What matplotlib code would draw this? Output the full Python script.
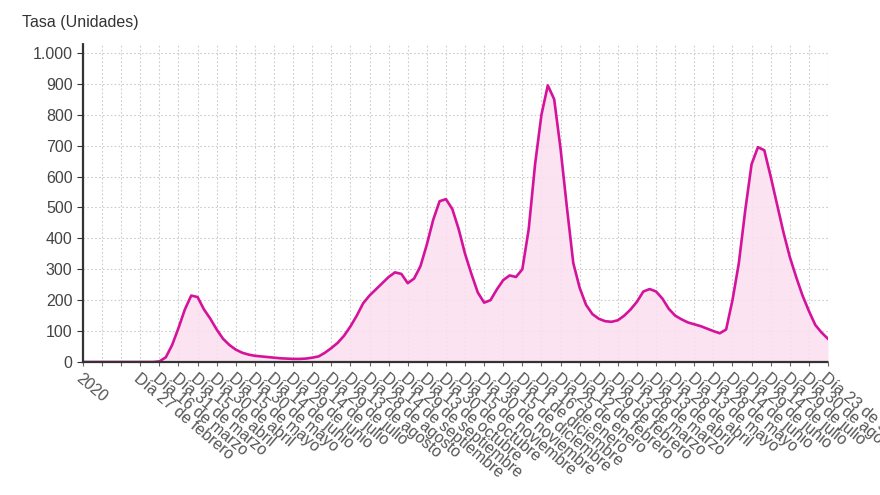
import matplotlib
matplotlib.use('Agg')
import matplotlib.pyplot as plt
import matplotlib.ticker as mticker
import numpy as np

plt.rcParams['font.family'] = ['Liberation Sans', 'DejaVu Sans']

# one value every 5 days, starting at the "2020" tick
step_days = 5
tasa = [
    0, 0, 0, 0, 0, 0, 0, 0, 0, 0,
    0, 0, 2, 15, 55, 110, 170, 215, 210, 170,
    140, 105, 75, 55, 40, 30, 24, 20, 18, 16,
    14, 12, 11, 10, 10, 11, 14, 18, 30, 45,
    62, 85, 115, 150, 190, 215, 235, 255, 275, 290,
    285, 255, 270, 310, 380, 460, 520, 527, 495, 430,
    350, 285, 225, 192, 200, 235, 265, 280, 275, 300,
    430, 640, 800, 895, 850, 690, 500, 320, 240, 185,
    155, 140, 132, 130, 135, 150, 170, 195, 228, 236,
    228, 205, 172, 150, 138, 128, 122, 116, 108, 100,
    93, 105, 200, 320, 490, 640, 695, 685, 600, 510,
    420, 340, 275, 215, 165, 120, 95, 75,
]

# tick every 15 days
tick_every = 15
tick_labels = [
    '2020', '', '',
    'Día 27 de febrero', 'Día 16 de marzo', 'Día 31 de marzo',
    'Día 15 de abril', 'Día 30 de abril', 'Día 15 de mayo',
    'Día 30 de mayo', 'Día 14 de junio', 'Día 29 de junio',
    'Día 14 de julio', 'Día 29 de julio', 'Día 13 de agosto',
    'Día 28 de agosto', 'Día 14 de septiembre', 'Día 29 de septiembre',
    'Día 13 de octubre', 'Día 30 de octubre', 'Día 15 de noviembre',
    'Día 30 de noviembre', 'Día 15 de diciembre', 'Día 1 de diciembre',
    'Día 16 de enero', 'Día 25 de enero', 'Día 12 de febrero',
    'Día 29 de febrero', 'Día 13 de marzo', 'Día 28 de marzo',
    'Día 13 de abril', 'Día 28 de abril', 'Día 13 de mayo',
    'Día 28 de mayo', 'Día 14 de junio', 'Día 29 de junio',
    'Día 14 de julio', 'Día 29 de julio', 'Día 30 de agosto',
    'Día 23 de septiembre',
]

days = np.arange(len(tasa)) * step_days
tick_pos = np.arange(len(tick_labels)) * tick_every

fig = plt.figure(figsize=(8.8, 4.95), dpi=100)
ax = fig.add_axes([0.0943, 0.2687, 0.8466, 0.6444])

line_col = '#d4139a'
ax.fill_between(days, tasa, 0, color='#fbe0f0', alpha=0.9, lw=0)
ax.plot(days, tasa, color=line_col, lw=1.9)

ax.set_xlim(0, days[-1])
ax.set_ylim(0, 1032)
ax.set_yticks(np.arange(0, 1001, 100))
ax.yaxis.set_major_formatter(
    mticker.FuncFormatter(lambda v, p: f'{int(v):,}'.replace(',', '.')))
ax.set_xticks(tick_pos)
ax.set_xticklabels(tick_labels, rotation=-40, ha='left', va='top',
                   rotation_mode='anchor')

ax.grid(True, color='#cccccc', linestyle=(0, (1.5, 2)), lw=0.8)
ax.set_axisbelow(True)
for s in ['top', 'right']:
    ax.spines[s].set_visible(False)
for s in ['left', 'bottom']:
    ax.spines[s].set_color('#333333')
    ax.spines[s].set_linestyle((0, (1, 1)))
    ax.spines[s].set_linewidth(1.6)

ax.tick_params(axis='y', colors='#333333', labelsize=11.5, length=4,
               labelcolor='#444444')
ax.tick_params(axis='x', length=3, color='#666666', labelsize=11.5,
               labelcolor='#555555', pad=3)

fig.text(22 / 880, 1 - 22 / 495, 'Tasa (Unidades)', fontsize=11.5,
         color='#333333', va='center', ha='left')

fig.savefig('out.png', dpi=100)
